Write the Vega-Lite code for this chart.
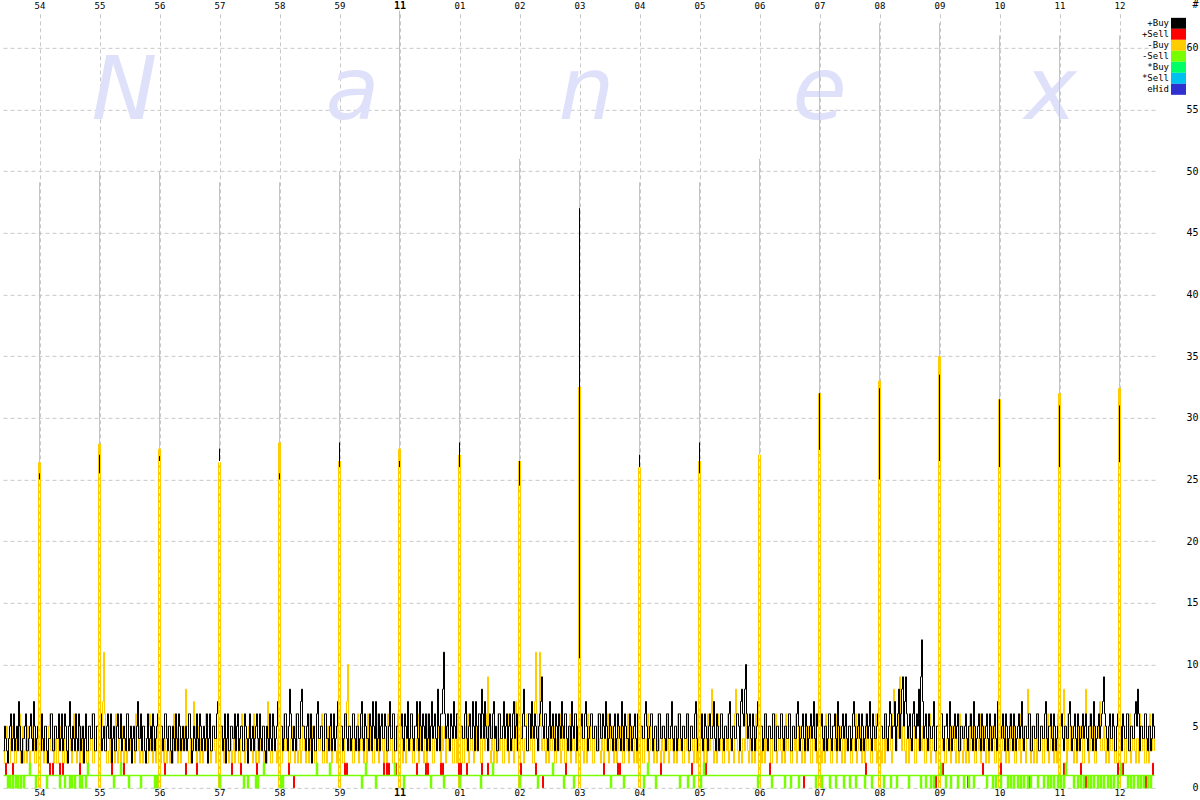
{
"$schema":"https://vega.github.io/schema/vega-lite/v6.json",
"width":1152,"height":777,
"autosize":{"type":"none"},
"padding":{"left":3,"top":10.833,"right":45,"bottom":12.167},
"background":"#ffffff",
"config":{"view":{"stroke":null},"axis":{"labelFont":"DejaVu Sans Mono","labelColor":"#000000","titleFont":"DejaVu Sans Mono"},"line":{"strokeWidth":1}},
"datasets":{
"noise":[
{"t":0,"k":3,"y":2},{"t":1,"k":5,"y":3},{"t":2,"k":4,"y":3},{"t":3,"k":3,"y":5},{"t":4,"k":2,"y":4},{"t":5,"k":4,"y":2},{"t":6,"k":5,"y":2},{"t":7,"k":6,"y":4},{"t":8,"k":3,"y":5},{"t":9,"k":4,"y":3},{"t":10,"k":6,"y":3},{"t":11,"k":3,"y":2},{"t":12,"k":4,"y":2},{"t":13,"k":5,"y":4},{"t":14,"k":3,"y":4},{"t":15,"k":7,"y":3},{"t":16,"k":5,"y":6},{"t":17,"k":3,"y":2},{"t":18,"k":2,"y":3},{"t":19,"k":4,"y":5},{"t":20,"k":4,"y":2},{"t":21,"k":5,"y":3},{"t":22,"k":6,"y":4},{"t":23,"k":3,"y":2},{"t":24,"k":3,"y":5},{"t":25,"k":4,"y":4},{"t":26,"k":5,"y":2},{"t":27,"k":6,"y":3},{"t":28,"k":4,"y":3},{"t":29,"k":3,"y":5},{"t":30,"k":7,"y":4},{"t":31,"k":5,"y":2},{"t":32,"k":3,"y":2},{"t":33,"k":4,"y":4},{"t":34,"k":5,"y":3},{"t":35,"k":6,"y":2},{"t":36,"k":4,"y":3},{"t":37,"k":3,"y":4},{"t":38,"k":6,"y":5},{"t":39,"k":4,"y":3},{"t":40,"k":3,"y":2},{"t":41,"k":5,"y":4},{"t":42,"k":5,"y":4},{"t":43,"k":3,"y":2},{"t":44,"k":2,"y":3},{"t":45,"k":4,"y":5},{"t":46,"k":4,"y":6},{"t":47,"k":6,"y":3},{"t":48,"k":6,"y":3},{"t":49,"k":3,"y":4},{"t":50,"k":3,"y":2},{"t":51,"k":5,"y":3},{"t":52,"k":5,"y":4},{"t":53,"k":4,"y":2},{"t":54,"k":4,"y":2},{"t":55,"k":6,"y":4},{"t":56,"k":3,"y":5},{"t":57,"k":4,"y":3},{"t":58,"k":6,"y":3},{"t":59,"k":3,"y":2},
{"t":60,"k":4,"y":2},{"t":61,"k":6,"y":4},{"t":62,"k":5,"y":4},{"t":63,"k":3,"y":2},{"t":64,"k":2,"y":3},{"t":65,"k":5,"y":5},{"t":66,"k":7,"y":5},{"t":67,"k":4,"y":3},{"t":68,"k":3,"y":2},{"t":69,"k":5,"y":4},{"t":70,"k":4,"y":6},{"t":71,"k":3,"y":3},{"t":72,"k":6,"y":3},{"t":73,"k":4,"y":2},{"t":74,"k":3,"y":4},{"t":75,"k":6,"y":5},{"t":76,"k":5,"y":2},{"t":77,"k":3,"y":3},{"t":78,"k":4,"y":5},{"t":79,"k":5,"y":2},{"t":80,"k":2,"y":3},{"t":81,"k":4,"y":4},{"t":82,"k":6,"y":4},{"t":83,"k":3,"y":2},{"t":84,"k":3,"y":2},{"t":85,"k":5,"y":3},{"t":86,"k":5,"y":3},{"t":87,"k":4,"y":5},{"t":88,"k":4,"y":6},{"t":89,"k":6,"y":2},{"t":90,"k":6,"y":2},{"t":91,"k":3,"y":4},{"t":92,"k":3,"y":4},{"t":93,"k":5,"y":3},{"t":94,"k":5,"y":3},{"t":95,"k":4,"y":2},{"t":96,"k":4,"y":3},{"t":97,"k":6,"y":4},{"t":98,"k":3,"y":5},{"t":99,"k":4,"y":7},{"t":100,"k":5,"y":11},{"t":101,"k":3,"y":6},{"t":102,"k":3,"y":4},{"t":103,"k":5,"y":2},{"t":104,"k":6,"y":2},{"t":105,"k":4,"y":3},{"t":106,"k":4,"y":5},{"t":107,"k":6,"y":2},{"t":108,"k":2,"y":3},{"t":109,"k":4,"y":4},{"t":110,"k":5,"y":4},{"t":111,"k":3,"y":2},{"t":112,"k":3,"y":6},{"t":113,"k":5,"y":3},{"t":114,"k":6,"y":2},{"t":115,"k":4,"y":4},{"t":116,"k":4,"y":3},{"t":117,"k":6,"y":2},{"t":118,"k":3,"y":5},{"t":119,"k":4,"y":3},
{"t":120,"k":5,"y":2},{"t":121,"k":4,"y":4},{"t":122,"k":3,"y":4},{"t":123,"k":6,"y":2},{"t":124,"k":6,"y":3},{"t":125,"k":3,"y":5},{"t":126,"k":4,"y":5},{"t":127,"k":5,"y":3},{"t":128,"k":2,"y":2},{"t":129,"k":4,"y":4},{"t":130,"k":5,"y":4},{"t":131,"k":3,"y":2},{"t":132,"k":3,"y":6},{"t":133,"k":5,"y":3},{"t":134,"k":7,"y":3},{"t":135,"k":4,"y":5},{"t":136,"k":4,"y":2},{"t":137,"k":6,"y":3},{"t":138,"k":3,"y":5},{"t":139,"k":5,"y":2},{"t":140,"k":5,"y":3},{"t":141,"k":3,"y":4},{"t":142,"k":2,"y":4},{"t":143,"k":4,"y":2},{"t":144,"k":6,"y":2},{"t":145,"k":3,"y":5},{"t":146,"k":4,"y":6},{"t":147,"k":5,"y":3},{"t":148,"k":3,"y":3},{"t":149,"k":6,"y":2},{"t":150,"k":5,"y":4},{"t":151,"k":3,"y":3},{"t":152,"k":4,"y":2},{"t":153,"k":5,"y":4},{"t":154,"k":6,"y":5},{"t":155,"k":4,"y":3},{"t":156,"k":3,"y":3},{"t":157,"k":5,"y":2},{"t":158,"k":5,"y":4},{"t":159,"k":3,"y":3},{"t":160,"k":4,"y":2},{"t":161,"k":6,"y":4},{"t":162,"k":6,"y":3},{"t":163,"k":4,"y":2},{"t":164,"k":3,"y":5},{"t":165,"k":5,"y":3},{"t":166,"k":5,"y":2},{"t":167,"k":3,"y":4},{"t":168,"k":2,"y":4},{"t":169,"k":5,"y":2},{"t":170,"k":4,"y":6},{"t":171,"k":3,"y":3},{"t":172,"k":6,"y":3},{"t":173,"k":4,"y":5},{"t":174,"k":3,"y":2},{"t":175,"k":6,"y":3},{"t":176,"k":5,"y":4},{"t":177,"k":3,"y":2},{"t":178,"k":4,"y":3},{"t":179,"k":5,"y":4},
{"t":180,"k":3,"y":5},{"t":181,"k":4,"y":3},{"t":182,"k":5,"y":8},{"t":183,"k":3,"y":4},{"t":184,"k":4,"y":3},{"t":185,"k":6,"y":2},{"t":186,"k":6,"y":2},{"t":187,"k":4,"y":4},{"t":188,"k":2,"y":4},{"t":189,"k":3,"y":3},{"t":190,"k":5,"y":7},{"t":191,"k":4,"y":5},{"t":192,"k":3,"y":3},{"t":193,"k":6,"y":2},{"t":194,"k":4,"y":5},{"t":195,"k":3,"y":3},{"t":196,"k":6,"y":2},{"t":197,"k":5,"y":4},{"t":198,"k":3,"y":4},{"t":199,"k":4,"y":2},{"t":200,"k":5,"y":3},{"t":201,"k":3,"y":5},{"t":202,"k":4,"y":6},{"t":203,"k":6,"y":3},{"t":204,"k":2,"y":2},{"t":205,"k":4,"y":4},{"t":206,"k":6,"y":4},{"t":207,"k":3,"y":2},{"t":208,"k":3,"y":3},{"t":209,"k":5,"y":5},{"t":210,"k":5,"y":5},{"t":211,"k":4,"y":3},{"t":212,"k":4,"y":2},{"t":213,"k":6,"y":4},{"t":214,"k":7,"y":4},{"t":215,"k":4,"y":2},{"t":216,"k":3,"y":3},{"t":217,"k":5,"y":4},{"t":218,"k":5,"y":5},{"t":219,"k":3,"y":3},{"t":220,"k":4,"y":2},{"t":221,"k":6,"y":5},{"t":222,"k":2,"y":4},{"t":223,"k":4,"y":3},{"t":224,"k":6,"y":6},{"t":225,"k":3,"y":2},{"t":226,"k":3,"y":3},{"t":227,"k":5,"y":4},{"t":228,"k":5,"y":2},{"t":229,"k":4,"y":3},{"t":230,"k":4,"y":5},{"t":231,"k":6,"y":2},{"t":232,"k":3,"y":3},{"t":233,"k":5,"y":4},{"t":234,"k":6,"y":4},{"t":235,"k":3,"y":2},{"t":236,"k":4,"y":2},{"t":237,"k":5,"y":5},{"t":238,"k":5,"y":6},{"t":239,"k":3,"y":3},
{"t":240,"k":3,"y":3},{"t":241,"k":6,"y":2},{"t":242,"k":5,"y":4},{"t":243,"k":4,"y":3},{"t":244,"k":2,"y":2},{"t":245,"k":4,"y":5},{"t":246,"k":6,"y":5},{"t":247,"k":3,"y":3},{"t":248,"k":4,"y":3},{"t":249,"k":5,"y":2},{"t":250,"k":3,"y":6},{"t":251,"k":4,"y":4},{"t":252,"k":5,"y":2},{"t":253,"k":6,"y":3},{"t":254,"k":4,"y":4},{"t":255,"k":3,"y":2},{"t":256,"k":6,"y":3},{"t":257,"k":4,"y":5},{"t":258,"k":3,"y":5},{"t":259,"k":5,"y":3},{"t":260,"k":5,"y":2},{"t":261,"k":3,"y":4},{"t":262,"k":2,"y":4},{"t":263,"k":5,"y":2},{"t":264,"k":4,"y":7},{"t":265,"k":3,"y":4},{"t":266,"k":6,"y":3},{"t":267,"k":4,"y":2},{"t":268,"k":3,"y":2},{"t":269,"k":6,"y":4},{"t":270,"k":5,"y":5},{"t":271,"k":3,"y":3},{"t":272,"k":4,"y":3},{"t":273,"k":5,"y":2},{"t":274,"k":7,"y":4},{"t":275,"k":4,"y":3},{"t":276,"k":3,"y":3},{"t":277,"k":5,"y":2},{"t":278,"k":5,"y":2},{"t":279,"k":3,"y":4},{"t":280,"k":4,"y":6},{"t":281,"k":6,"y":3},{"t":282,"k":6,"y":3},{"t":283,"k":4,"y":5},{"t":284,"k":3,"y":4},{"t":285,"k":5,"y":2},{"t":286,"k":8,"y":2},{"t":287,"k":6,"y":4},{"t":288,"k":4,"y":5},{"t":289,"k":3,"y":3},{"t":290,"k":5,"y":3},{"t":291,"k":4,"y":2},{"t":292,"k":3,"y":6},{"t":293,"k":6,"y":4},{"t":294,"k":6,"y":2},{"t":295,"k":4,"y":3},{"t":296,"k":4,"y":4},{"t":297,"k":7,"y":2},{"t":298,"k":8,"y":3},{"t":299,"k":5,"y":5},
{"t":300,"k":5,"y":5},{"t":301,"k":4,"y":3},{"t":302,"k":3,"y":2},{"t":303,"k":5,"y":4},{"t":304,"k":6,"y":4},{"t":305,"k":3,"y":2},{"t":306,"k":4,"y":6},{"t":307,"k":6,"y":3},{"t":308,"k":2,"y":3},{"t":309,"k":4,"y":5},{"t":310,"k":5,"y":5},{"t":311,"k":3,"y":2},{"t":312,"k":3,"y":2},{"t":313,"k":6,"y":4},{"t":314,"k":7,"y":4},{"t":315,"k":4,"y":3},{"t":316,"k":4,"y":3},{"t":317,"k":5,"y":5},{"t":318,"k":5,"y":6},{"t":319,"k":3,"y":2},{"t":320,"k":3,"y":2},{"t":321,"k":6,"y":4},{"t":322,"k":6,"y":4},{"t":323,"k":4,"y":2},{"t":324,"k":4,"y":5},{"t":325,"k":3,"y":3},{"t":326,"k":5,"y":3},{"t":327,"k":6,"y":5},{"t":328,"k":3,"y":2},{"t":329,"k":4,"y":4},{"t":330,"k":6,"y":6},{"t":331,"k":3,"y":3},{"t":332,"k":4,"y":3},{"t":333,"k":5,"y":2},{"t":334,"k":7,"y":5},{"t":335,"k":4,"y":3},{"t":336,"k":3,"y":3},{"t":337,"k":5,"y":4},{"t":338,"k":5,"y":4},{"t":339,"k":3,"y":2},{"t":340,"k":4,"y":2},{"t":341,"k":6,"y":5},{"t":342,"k":6,"y":6},{"t":343,"k":4,"y":7},{"t":344,"k":3,"y":10},{"t":345,"k":5,"y":4},{"t":346,"k":5,"y":3},{"t":347,"k":3,"y":5},{"t":348,"k":4,"y":5},{"t":349,"k":6,"y":2},{"t":350,"k":6,"y":2},{"t":351,"k":4,"y":4},{"t":352,"k":3,"y":4},{"t":353,"k":5,"y":3},{"t":354,"k":5,"y":6},{"t":355,"k":3,"y":2},{"t":356,"k":4,"y":3},{"t":357,"k":6,"y":4},{"t":358,"k":7,"y":5},{"t":359,"k":4,"y":3},
{"t":360,"k":3,"y":2},{"t":361,"k":6,"y":4},{"t":362,"k":5,"y":4},{"t":363,"k":4,"y":2},{"t":364,"k":4,"y":6},{"t":365,"k":3,"y":3},{"t":366,"k":6,"y":3},{"t":367,"k":5,"y":5},{"t":368,"k":3,"y":5},{"t":369,"k":7,"y":2},{"t":370,"k":5,"y":2},{"t":371,"k":4,"y":4},{"t":372,"k":7,"y":4},{"t":373,"k":3,"y":3},{"t":374,"k":4,"y":6},{"t":375,"k":6,"y":2},{"t":376,"k":3,"y":3},{"t":377,"k":5,"y":5},{"t":378,"k":6,"y":5},{"t":379,"k":4,"y":3},{"t":380,"k":4,"y":2},{"t":381,"k":6,"y":4},{"t":382,"k":5,"y":4},{"t":383,"k":3,"y":2},{"t":384,"k":3,"y":6},{"t":385,"k":5,"y":3},{"t":386,"k":7,"y":3},{"t":387,"k":4,"y":5},{"t":388,"k":4,"y":5},{"t":389,"k":6,"y":2},{"t":390,"k":6,"y":2},{"t":391,"k":3,"y":4},{"t":392,"k":3,"y":4},{"t":393,"k":5,"y":3},{"t":394,"k":5,"y":6},{"t":395,"k":4,"y":2},{"t":396,"k":4,"y":3},{"t":397,"k":5,"y":4},{"t":398,"k":6,"y":5},{"t":399,"k":4,"y":2},{"t":400,"k":3,"y":4},{"t":401,"k":6,"y":3},{"t":402,"k":5,"y":2},{"t":403,"k":4,"y":5},{"t":404,"k":7,"y":6},{"t":405,"k":3,"y":3},{"t":406,"k":4,"y":3},{"t":407,"k":6,"y":5},{"t":408,"k":6,"y":5},{"t":409,"k":4,"y":2},{"t":410,"k":3,"y":2},{"t":411,"k":5,"y":4},{"t":412,"k":5,"y":4},{"t":413,"k":7,"y":3},{"t":414,"k":4,"y":6},{"t":415,"k":3,"y":2},{"t":416,"k":7,"y":3},{"t":417,"k":5,"y":5},{"t":418,"k":3,"y":5},{"t":419,"k":6,"y":3},
{"t":420,"k":5,"y":2},{"t":421,"k":4,"y":4},{"t":422,"k":6,"y":4},{"t":423,"k":3,"y":2},{"t":424,"k":4,"y":6},{"t":425,"k":6,"y":3},{"t":426,"k":3,"y":3},{"t":427,"k":5,"y":5},{"t":428,"k":7,"y":5},{"t":429,"k":4,"y":2},{"t":430,"k":5,"y":2},{"t":431,"k":6,"y":4},{"t":432,"k":4,"y":4},{"t":433,"k":3,"y":3},{"t":434,"k":8,"y":6},{"t":435,"k":5,"y":4},{"t":436,"k":3,"y":3},{"t":437,"k":6,"y":2},{"t":438,"k":6,"y":5},{"t":439,"k":8,"y":3},{"t":440,"k":11,"y":4},{"t":441,"k":6,"y":5},{"t":442,"k":4,"y":2},{"t":443,"k":5,"y":4},{"t":444,"k":6,"y":6},{"t":445,"k":4,"y":3},{"t":446,"k":3,"y":3},{"t":447,"k":6,"y":5},{"t":448,"k":5,"y":5},{"t":449,"k":4,"y":2},{"t":450,"k":7,"y":2},{"t":451,"k":5,"y":4},{"t":452,"k":4,"y":4},{"t":453,"k":6,"y":2},{"t":454,"k":6,"y":6},{"t":455,"k":3,"y":3},{"t":456,"k":3,"y":3},{"t":457,"k":5,"y":4},{"t":458,"k":5,"y":5},{"t":459,"k":4,"y":2},{"t":460,"k":4,"y":2},{"t":461,"k":6,"y":5},{"t":462,"k":7,"y":4},{"t":463,"k":4,"y":3},{"t":464,"k":3,"y":6},{"t":465,"k":5,"y":2},{"t":466,"k":6,"y":3},{"t":467,"k":4,"y":5},{"t":468,"k":4,"y":5},{"t":469,"k":7,"y":3},{"t":470,"k":5,"y":2},{"t":471,"k":3,"y":4},{"t":472,"k":7,"y":6},{"t":473,"k":5,"y":3},{"t":474,"k":3,"y":3},{"t":475,"k":6,"y":5},{"t":476,"k":6,"y":5},{"t":477,"k":4,"y":2},{"t":478,"k":8,"y":2},{"t":479,"k":6,"y":4},
{"t":480,"k":4,"y":4},{"t":481,"k":7,"y":3},{"t":482,"k":5,"y":6},{"t":483,"k":4,"y":4},{"t":484,"k":3,"y":9},{"t":485,"k":5,"y":5},{"t":486,"k":6,"y":3},{"t":487,"k":4,"y":2},{"t":488,"k":4,"y":5},{"t":489,"k":6,"y":3},{"t":490,"k":7,"y":2},{"t":491,"k":4,"y":4},{"t":492,"k":5,"y":4},{"t":493,"k":3,"y":2},{"t":494,"k":3,"y":6},{"t":495,"k":6,"y":4},{"t":496,"k":6,"y":3},{"t":497,"k":4,"y":5},{"t":498,"k":4,"y":5},{"t":499,"k":5,"y":2},{"t":500,"k":7,"y":2},{"t":501,"k":4,"y":4},{"t":502,"k":5,"y":4},{"t":503,"k":6,"y":3},{"t":504,"k":3,"y":6},{"t":505,"k":5,"y":2},{"t":506,"k":6,"y":3},{"t":507,"k":3,"y":5},{"t":508,"k":4,"y":5},{"t":509,"k":6,"y":3},{"t":510,"k":7,"y":2},{"t":511,"k":4,"y":4},{"t":512,"k":5,"y":7},{"t":513,"k":6,"y":3},{"t":514,"k":3,"y":4},{"t":515,"k":5,"y":2},{"t":516,"k":6,"y":3},{"t":517,"k":4,"y":4},{"t":518,"k":4,"y":5},{"t":519,"k":6,"y":3},{"t":520,"k":8,"y":2},{"t":521,"k":5,"y":4},{"t":522,"k":5,"y":4},{"t":523,"k":3,"y":6},{"t":524,"k":3,"y":6},{"t":525,"k":6,"y":3},{"t":526,"k":6,"y":3},{"t":527,"k":4,"y":5},{"t":528,"k":7,"y":5},{"t":529,"k":5,"y":2},{"t":530,"k":4,"y":2},{"t":531,"k":6,"y":7},{"t":532,"k":5,"y":11},{"t":533,"k":4,"y":6},{"t":534,"k":3,"y":4},{"t":535,"k":5,"y":3},{"t":536,"k":6,"y":11},{"t":537,"k":7,"y":5},{"t":538,"k":9,"y":3},{"t":539,"k":5,"y":4},
{"t":540,"k":4,"y":5},{"t":541,"k":6,"y":3},{"t":542,"k":6,"y":2},{"t":543,"k":4,"y":4},{"t":544,"k":3,"y":4},{"t":545,"k":5,"y":2},{"t":546,"k":7,"y":6},{"t":547,"k":4,"y":3},{"t":548,"k":5,"y":3},{"t":549,"k":6,"y":5},{"t":550,"k":4,"y":5},{"t":551,"k":3,"y":2},{"t":552,"k":6,"y":2},{"t":553,"k":5,"y":4},{"t":554,"k":3,"y":4},{"t":555,"k":6,"y":3},{"t":556,"k":5,"y":6},{"t":557,"k":4,"y":2},{"t":558,"k":7,"y":3},{"t":559,"k":5,"y":5},{"t":560,"k":4,"y":5},{"t":561,"k":6,"y":2},{"t":562,"k":6,"y":2},{"t":563,"k":4,"y":4},{"t":564,"k":3,"y":4},{"t":565,"k":5,"y":3},{"t":566,"k":5,"y":6},{"t":567,"k":3,"y":2},{"t":568,"k":7,"y":3},{"t":569,"k":5,"y":4},{"t":570,"k":4,"y":5},{"t":571,"k":6,"y":3},{"t":572,"k":6,"y":2},{"t":573,"k":3,"y":4},{"t":574,"k":5,"y":4},{"t":575,"k":6,"y":2},{"t":576,"k":3,"y":3},{"t":577,"k":5,"y":4},{"t":578,"k":6,"y":5},{"t":579,"k":4,"y":3},{"t":580,"k":4,"y":2},{"t":581,"k":6,"y":4},{"t":582,"k":7,"y":4},{"t":583,"k":5,"y":2},{"t":584,"k":3,"y":6},{"t":585,"k":4,"y":3},{"t":586,"k":5,"y":3},{"t":587,"k":6,"y":5},{"t":588,"k":6,"y":5},{"t":589,"k":4,"y":2},{"t":590,"k":4,"y":2},{"t":591,"k":5,"y":4},{"t":592,"k":5,"y":4},{"t":593,"k":3,"y":3},{"t":594,"k":3,"y":6},{"t":595,"k":6,"y":4},{"t":596,"k":6,"y":3},{"t":597,"k":4,"y":2},{"t":598,"k":4,"y":5},{"t":599,"k":6,"y":3},
{"t":600,"k":5,"y":2},{"t":601,"k":4,"y":4},{"t":602,"k":7,"y":4},{"t":603,"k":5,"y":3},{"t":604,"k":3,"y":6},{"t":605,"k":4,"y":2},{"t":606,"k":6,"y":3},{"t":607,"k":5,"y":5},{"t":608,"k":4,"y":5},{"t":609,"k":3,"y":3},{"t":610,"k":5,"y":2},{"t":611,"k":6,"y":4},{"t":612,"k":3,"y":4},{"t":613,"k":4,"y":2},{"t":614,"k":6,"y":6},{"t":615,"k":5,"y":3},{"t":616,"k":4,"y":3},{"t":617,"k":3,"y":5},{"t":618,"k":7,"y":5},{"t":619,"k":5,"y":2},{"t":620,"k":3,"y":2},{"t":621,"k":6,"y":4},{"t":622,"k":5,"y":4},{"t":623,"k":4,"y":3},{"t":624,"k":4,"y":6},{"t":625,"k":3,"y":2},{"t":626,"k":6,"y":3},{"t":627,"k":5,"y":5},{"t":628,"k":3,"y":5},{"t":629,"k":4,"y":3},{"t":630,"k":5,"y":2},{"t":631,"k":6,"y":4},{"t":632,"k":4,"y":4},{"t":633,"k":3,"y":2},{"t":634,"k":6,"y":6},{"t":635,"k":4,"y":3},{"t":636,"k":3,"y":3},{"t":637,"k":5,"y":4},{"t":638,"k":5,"y":5},{"t":639,"k":4,"y":2},{"t":640,"k":4,"y":2},{"t":641,"k":6,"y":4},{"t":642,"k":7,"y":4},{"t":643,"k":5,"y":3},{"t":644,"k":3,"y":6},{"t":645,"k":4,"y":2},{"t":646,"k":5,"y":3},{"t":647,"k":6,"y":5},{"t":648,"k":6,"y":5},{"t":649,"k":3,"y":3},{"t":650,"k":4,"y":2},{"t":651,"k":5,"y":4},{"t":652,"k":5,"y":4},{"t":653,"k":3,"y":2},{"t":654,"k":3,"y":6},{"t":655,"k":6,"y":4},{"t":656,"k":6,"y":3},{"t":657,"k":4,"y":2},{"t":658,"k":4,"y":5},{"t":659,"k":5,"y":3},
{"t":660,"k":5,"y":2},{"t":661,"k":4,"y":4},{"t":662,"k":3,"y":4},{"t":663,"k":6,"y":3},{"t":664,"k":6,"y":6},{"t":665,"k":4,"y":2},{"t":666,"k":4,"y":3},{"t":667,"k":5,"y":5},{"t":668,"k":7,"y":5},{"t":669,"k":4,"y":3},{"t":670,"k":3,"y":2},{"t":671,"k":5,"y":4},{"t":672,"k":5,"y":4},{"t":673,"k":3,"y":2},{"t":674,"k":4,"y":6},{"t":675,"k":6,"y":3},{"t":676,"k":6,"y":3},{"t":677,"k":4,"y":5},{"t":678,"k":3,"y":5},{"t":679,"k":5,"y":2},{"t":680,"k":5,"y":2},{"t":681,"k":4,"y":4},{"t":682,"k":4,"y":4},{"t":683,"k":6,"y":3},{"t":684,"k":6,"y":6},{"t":685,"k":3,"y":2},{"t":686,"k":3,"y":3},{"t":687,"k":5,"y":5},{"t":688,"k":5,"y":5},{"t":689,"k":4,"y":3},{"t":690,"k":4,"y":2},{"t":691,"k":6,"y":4},{"t":692,"k":7,"y":4},{"t":693,"k":4,"y":2},{"t":694,"k":3,"y":6},{"t":695,"k":5,"y":3},{"t":696,"k":5,"y":3},{"t":697,"k":4,"y":5},{"t":698,"k":6,"y":5},{"t":699,"k":3,"y":3},{"t":700,"k":4,"y":2},{"t":701,"k":6,"y":4},{"t":702,"k":5,"y":4},{"t":703,"k":4,"y":2},{"t":704,"k":3,"y":6},{"t":705,"k":5,"y":4},{"t":706,"k":6,"y":3},{"t":707,"k":4,"y":6},{"t":708,"k":4,"y":8},{"t":709,"k":5,"y":4},{"t":710,"k":7,"y":2},{"t":711,"k":4,"y":3},{"t":712,"k":3,"y":4},{"t":713,"k":6,"y":2},{"t":714,"k":5,"y":6},{"t":715,"k":3,"y":4},{"t":716,"k":4,"y":3},{"t":717,"k":6,"y":5},{"t":718,"k":6,"y":5},{"t":719,"k":4,"y":2},
{"t":720,"k":3,"y":2},{"t":721,"k":5,"y":4},{"t":722,"k":5,"y":4},{"t":723,"k":4,"y":3},{"t":724,"k":4,"y":6},{"t":725,"k":6,"y":2},{"t":726,"k":7,"y":3},{"t":727,"k":4,"y":5},{"t":728,"k":3,"y":5},{"t":729,"k":5,"y":3},{"t":730,"k":5,"y":2},{"t":731,"k":4,"y":6},{"t":732,"k":4,"y":8},{"t":733,"k":6,"y":4},{"t":734,"k":6,"y":3},{"t":735,"k":5,"y":2},{"t":736,"k":3,"y":5},{"t":737,"k":7,"y":3},{"t":738,"k":8,"y":2},{"t":739,"k":6,"y":4},{"t":740,"k":5,"y":4},{"t":741,"k":8,"y":3},{"t":742,"k":10,"y":6},{"t":743,"k":6,"y":4},{"t":744,"k":4,"y":3},{"t":745,"k":5,"y":2},{"t":746,"k":6,"y":5},{"t":747,"k":4,"y":3},{"t":748,"k":3,"y":2},{"t":749,"k":6,"y":4},{"t":750,"k":5,"y":4},{"t":751,"k":3,"y":2},{"t":752,"k":4,"y":6},{"t":753,"k":5,"y":3},{"t":754,"k":7,"y":3},{"t":755,"k":4,"y":5},{"t":756,"k":3,"y":5},{"t":757,"k":5,"y":3},{"t":758,"k":5,"y":2},{"t":759,"k":3,"y":4},{"t":760,"k":4,"y":4},{"t":761,"k":6,"y":2},{"t":762,"k":6,"y":6},{"t":763,"k":4,"y":3},{"t":764,"k":3,"y":3},{"t":765,"k":5,"y":5},{"t":766,"k":5,"y":5},{"t":767,"k":4,"y":2},{"t":768,"k":4,"y":2},{"t":769,"k":6,"y":4},{"t":770,"k":6,"y":4},{"t":771,"k":3,"y":3},{"t":772,"k":3,"y":6},{"t":773,"k":5,"y":2},{"t":774,"k":5,"y":3},{"t":775,"k":4,"y":5},{"t":776,"k":4,"y":5},{"t":777,"k":6,"y":3},{"t":778,"k":6,"y":2},{"t":779,"k":4,"y":4},
{"t":780,"k":3,"y":4},{"t":781,"k":5,"y":2},{"t":782,"k":5,"y":6},{"t":783,"k":4,"y":3},{"t":784,"k":4,"y":3},{"t":785,"k":6,"y":5},{"t":786,"k":6,"y":5},{"t":787,"k":3,"y":2},{"t":788,"k":3,"y":2},{"t":789,"k":5,"y":4},{"t":790,"k":5,"y":4},{"t":791,"k":4,"y":3},{"t":792,"k":4,"y":6},{"t":793,"k":6,"y":2},{"t":794,"k":7,"y":3},{"t":795,"k":5,"y":5},{"t":796,"k":3,"y":5},{"t":797,"k":4,"y":3},{"t":798,"k":5,"y":2},{"t":799,"k":6,"y":4},{"t":800,"k":4,"y":4},{"t":801,"k":3,"y":2},{"t":802,"k":6,"y":6},{"t":803,"k":5,"y":3},{"t":804,"k":3,"y":3},{"t":805,"k":4,"y":5},{"t":806,"k":5,"y":5},{"t":807,"k":6,"y":2},{"t":808,"k":4,"y":2},{"t":809,"k":5,"y":4},{"t":810,"k":7,"y":4},{"t":811,"k":4,"y":3},{"t":812,"k":3,"y":6},{"t":813,"k":6,"y":2},{"t":814,"k":5,"y":3},{"t":815,"k":4,"y":4},{"t":816,"k":4,"y":5},{"t":817,"k":5,"y":3},{"t":818,"k":6,"y":2},{"t":819,"k":4,"y":4},{"t":820,"k":3,"y":4},{"t":821,"k":5,"y":2},{"t":822,"k":5,"y":6},{"t":823,"k":3,"y":3},{"t":824,"k":4,"y":3},{"t":825,"k":6,"y":5},{"t":826,"k":6,"y":5},{"t":827,"k":4,"y":2},{"t":828,"k":3,"y":2},{"t":829,"k":5,"y":4},{"t":830,"k":5,"y":4},{"t":831,"k":6,"y":3},{"t":832,"k":4,"y":6},{"t":833,"k":3,"y":2},{"t":834,"k":7,"y":3},{"t":835,"k":5,"y":5},{"t":836,"k":3,"y":5},{"t":837,"k":4,"y":3},{"t":838,"k":5,"y":2},{"t":839,"k":6,"y":4},
{"t":840,"k":4,"y":4},{"t":841,"k":5,"y":2},{"t":842,"k":6,"y":6},{"t":843,"k":4,"y":3},{"t":844,"k":3,"y":3},{"t":845,"k":5,"y":5},{"t":846,"k":5,"y":5},{"t":847,"k":3,"y":2},{"t":848,"k":4,"y":2},{"t":849,"k":6,"y":4},{"t":850,"k":7,"y":4},{"t":851,"k":5,"y":3},{"t":852,"k":3,"y":6},{"t":853,"k":4,"y":2},{"t":854,"k":5,"y":3},{"t":855,"k":6,"y":5},{"t":856,"k":4,"y":5},{"t":857,"k":3,"y":3},{"t":858,"k":6,"y":2},{"t":859,"k":5,"y":4},{"t":860,"k":3,"y":4},{"t":861,"k":4,"y":2},{"t":862,"k":5,"y":6},{"t":863,"k":6,"y":3},{"t":864,"k":4,"y":3},{"t":865,"k":5,"y":5},{"t":866,"k":7,"y":5},{"t":867,"k":4,"y":2},{"t":868,"k":3,"y":2},{"t":869,"k":6,"y":4},{"t":870,"k":5,"y":4},{"t":871,"k":4,"y":3},{"t":872,"k":4,"y":6},{"t":873,"k":5,"y":2},{"t":874,"k":6,"y":3},{"t":875,"k":3,"y":4},{"t":876,"k":3,"y":5},{"t":877,"k":5,"y":3},{"t":878,"k":5,"y":2},{"t":879,"k":4,"y":4},{"t":880,"k":4,"y":4},{"t":881,"k":6,"y":2},{"t":882,"k":6,"y":6},{"t":883,"k":4,"y":3},{"t":884,"k":3,"y":3},{"t":885,"k":5,"y":5},{"t":886,"k":7,"y":5},{"t":887,"k":6,"y":3},{"t":888,"k":4,"y":2},{"t":889,"k":5,"y":6},{"t":890,"k":5,"y":8},{"t":891,"k":7,"y":5},{"t":892,"k":3,"y":4},{"t":893,"k":5,"y":3},{"t":894,"k":6,"y":6},{"t":895,"k":8,"y":4},{"t":896,"k":4,"y":9},{"t":897,"k":6,"y":6},{"t":898,"k":8,"y":3},{"t":899,"k":9,"y":5},
{"t":900,"k":5,"y":5},{"t":901,"k":7,"y":3},{"t":902,"k":9,"y":2},{"t":903,"k":6,"y":4},{"t":904,"k":4,"y":4},{"t":905,"k":5,"y":2},{"t":906,"k":6,"y":6},{"t":907,"k":4,"y":3},{"t":908,"k":3,"y":3},{"t":909,"k":6,"y":5},{"t":910,"k":7,"y":5},{"t":911,"k":5,"y":2},{"t":912,"k":4,"y":2},{"t":913,"k":6,"y":4},{"t":914,"k":5,"y":4},{"t":915,"k":8,"y":3},{"t":916,"k":3,"y":6},{"t":917,"k":9,"y":4},{"t":918,"k":12,"y":3},{"t":919,"k":7,"y":5},{"t":920,"k":4,"y":5},{"t":921,"k":5,"y":2},{"t":922,"k":6,"y":2},{"t":923,"k":4,"y":4},{"t":924,"k":3,"y":4},{"t":925,"k":6,"y":3},{"t":926,"k":5,"y":6},{"t":927,"k":4,"y":2},{"t":928,"k":4,"y":3},{"t":929,"k":5,"y":5},{"t":930,"k":7,"y":5},{"t":931,"k":3,"y":3},{"t":932,"k":3,"y":2},{"t":933,"k":5,"y":4},{"t":934,"k":5,"y":4},{"t":935,"k":4,"y":2},{"t":936,"k":4,"y":6},{"t":937,"k":6,"y":3},{"t":938,"k":6,"y":3},{"t":939,"k":4,"y":5},{"t":940,"k":3,"y":5},{"t":941,"k":5,"y":2},{"t":942,"k":5,"y":2},{"t":943,"k":6,"y":4},{"t":944,"k":4,"y":4},{"t":945,"k":3,"y":3},{"t":946,"k":7,"y":6},{"t":947,"k":5,"y":2},{"t":948,"k":3,"y":3},{"t":949,"k":4,"y":5},{"t":950,"k":5,"y":5},{"t":951,"k":6,"y":3},{"t":952,"k":4,"y":2},{"t":953,"k":5,"y":4},{"t":954,"k":6,"y":4},{"t":955,"k":3,"y":2},{"t":956,"k":3,"y":6},{"t":957,"k":5,"y":4},{"t":958,"k":5,"y":3},{"t":959,"k":4,"y":2},
{"t":960,"k":4,"y":5},{"t":961,"k":5,"y":3},{"t":962,"k":6,"y":2},{"t":963,"k":4,"y":4},{"t":964,"k":3,"y":4},{"t":965,"k":5,"y":2},{"t":966,"k":5,"y":6},{"t":967,"k":6,"y":3},{"t":968,"k":4,"y":3},{"t":969,"k":3,"y":5},{"t":970,"k":7,"y":5},{"t":971,"k":5,"y":2},{"t":972,"k":3,"y":2},{"t":973,"k":4,"y":4},{"t":974,"k":5,"y":4},{"t":975,"k":6,"y":3},{"t":976,"k":4,"y":6},{"t":977,"k":3,"y":2},{"t":978,"k":6,"y":3},{"t":979,"k":5,"y":5},{"t":980,"k":3,"y":5},{"t":981,"k":4,"y":3},{"t":982,"k":5,"y":2},{"t":983,"k":6,"y":4},{"t":984,"k":4,"y":4},{"t":985,"k":3,"y":2},{"t":986,"k":6,"y":6},{"t":987,"k":5,"y":3},{"t":988,"k":3,"y":3},{"t":989,"k":4,"y":5},{"t":990,"k":5,"y":5},{"t":991,"k":6,"y":2},{"t":992,"k":4,"y":2},{"t":993,"k":3,"y":4},{"t":994,"k":7,"y":4},{"t":995,"k":5,"y":3},{"t":996,"k":3,"y":6},{"t":997,"k":4,"y":2},{"t":998,"k":5,"y":3},{"t":999,"k":6,"y":5},{"t":1000,"k":4,"y":5},{"t":1001,"k":3,"y":3},{"t":1002,"k":6,"y":2},{"t":1003,"k":5,"y":4},{"t":1004,"k":3,"y":4},{"t":1005,"k":4,"y":2},{"t":1006,"k":5,"y":6},{"t":1007,"k":6,"y":3},{"t":1008,"k":4,"y":3},{"t":1009,"k":3,"y":5},{"t":1010,"k":6,"y":5},{"t":1011,"k":5,"y":2},{"t":1012,"k":3,"y":2},{"t":1013,"k":4,"y":4},{"t":1014,"k":5,"y":4},{"t":1015,"k":6,"y":3},{"t":1016,"k":4,"y":6},{"t":1017,"k":5,"y":2},{"t":1018,"k":7,"y":3},{"t":1019,"k":4,"y":4},
{"t":1020,"k":3,"y":5},{"t":1021,"k":5,"y":3},{"t":1022,"k":5,"y":2},{"t":1023,"k":4,"y":5},{"t":1024,"k":4,"y":8},{"t":1025,"k":6,"y":4},{"t":1026,"k":6,"y":3},{"t":1027,"k":3,"y":2},{"t":1028,"k":3,"y":5},{"t":1029,"k":5,"y":3},{"t":1030,"k":5,"y":2},{"t":1031,"k":4,"y":4},{"t":1032,"k":4,"y":4},{"t":1033,"k":6,"y":2},{"t":1034,"k":6,"y":6},{"t":1035,"k":3,"y":3},{"t":1036,"k":3,"y":3},{"t":1037,"k":5,"y":5},{"t":1038,"k":5,"y":5},{"t":1039,"k":4,"y":2},{"t":1040,"k":4,"y":2},{"t":1041,"k":6,"y":4},{"t":1042,"k":7,"y":4},{"t":1043,"k":4,"y":3},{"t":1044,"k":3,"y":6},{"t":1045,"k":5,"y":2},{"t":1046,"k":5,"y":3},{"t":1047,"k":6,"y":5},{"t":1048,"k":4,"y":5},{"t":1049,"k":3,"y":3},{"t":1050,"k":6,"y":2},{"t":1051,"k":5,"y":4},{"t":1052,"k":3,"y":4},{"t":1053,"k":4,"y":2},{"t":1054,"k":5,"y":6},{"t":1055,"k":6,"y":3},{"t":1056,"k":4,"y":3},{"t":1057,"k":5,"y":5},{"t":1058,"k":6,"y":5},{"t":1059,"k":4,"y":6},{"t":1060,"k":3,"y":8},{"t":1061,"k":5,"y":5},{"t":1062,"k":5,"y":4},{"t":1063,"k":4,"y":2},{"t":1064,"k":4,"y":6},{"t":1065,"k":6,"y":3},{"t":1066,"k":7,"y":3},{"t":1067,"k":5,"y":5},{"t":1068,"k":3,"y":5},{"t":1069,"k":4,"y":3},{"t":1070,"k":5,"y":2},{"t":1071,"k":6,"y":4},{"t":1072,"k":4,"y":4},{"t":1073,"k":3,"y":2},{"t":1074,"k":6,"y":6},{"t":1075,"k":5,"y":3},{"t":1076,"k":3,"y":3},{"t":1077,"k":4,"y":5},{"t":1078,"k":5,"y":5},{"t":1079,"k":6,"y":2},
{"t":1080,"k":4,"y":2},{"t":1081,"k":5,"y":5},{"t":1082,"k":6,"y":8},{"t":1083,"k":4,"y":4},{"t":1084,"k":3,"y":4},{"t":1085,"k":5,"y":2},{"t":1086,"k":5,"y":6},{"t":1087,"k":6,"y":3},{"t":1088,"k":4,"y":3},{"t":1089,"k":3,"y":5},{"t":1090,"k":7,"y":5},{"t":1091,"k":5,"y":2},{"t":1092,"k":3,"y":2},{"t":1093,"k":4,"y":4},{"t":1094,"k":5,"y":4},{"t":1095,"k":6,"y":5},{"t":1096,"k":4,"y":7},{"t":1097,"k":5,"y":3},{"t":1098,"k":6,"y":3},{"t":1099,"k":7,"y":4},{"t":1100,"k":9,"y":5},{"t":1101,"k":6,"y":3},{"t":1102,"k":5,"y":2},{"t":1103,"k":4,"y":4},{"t":1104,"k":3,"y":4},{"t":1105,"k":5,"y":2},{"t":1106,"k":6,"y":6},{"t":1107,"k":4,"y":3},{"t":1108,"k":4,"y":3},{"t":1109,"k":6,"y":5},{"t":1110,"k":5,"y":5},{"t":1111,"k":3,"y":2},{"t":1112,"k":3,"y":2},{"t":1113,"k":5,"y":4},{"t":1114,"k":6,"y":4},{"t":1115,"k":4,"y":2},{"t":1116,"k":4,"y":6},{"t":1117,"k":5,"y":3},{"t":1118,"k":3,"y":3},{"t":1119,"k":6,"y":5},{"t":1120,"k":5,"y":5},{"t":1121,"k":4,"y":2},{"t":1122,"k":4,"y":2},{"t":1123,"k":6,"y":4},{"t":1124,"k":6,"y":4},{"t":1125,"k":3,"y":3},{"t":1126,"k":3,"y":6},{"t":1127,"k":5,"y":2},{"t":1128,"k":5,"y":3},{"t":1129,"k":4,"y":5},{"t":1130,"k":4,"y":5},{"t":1131,"k":6,"y":3},{"t":1132,"k":7,"y":2},{"t":1133,"k":5,"y":4},{"t":1134,"k":8,"y":4},{"t":1135,"k":6,"y":2},{"t":1136,"k":3,"y":6},{"t":1137,"k":5,"y":3},{"t":1138,"k":5,"y":3},{"t":1139,"k":4,"y":5},{"t":1140,"k":4,"y":5},{"t":1141,"k":6,"y":2},{"t":1142,"k":6,"y":2},{"t":1143,"k":4,"y":4},{"t":1144,"k":3,"y":4},{"t":1145,"k":5,"y":2},{"t":1146,"k":5,"y":6},{"t":1147,"k":3,"y":3},{"t":1148,"k":4,"y":3},{"t":1149,"k":6,"y":4},{"t":1150,"k":5,"y":4},{"t":1151,"k":4,"y":3}
],
"spikes":[
{"t":36,"a":49.1,"b":26.4,"kh":25.5,"kl":25},
{"t":96,"a":50,"b":27.9,"kh":27,"kl":25.5},
{"t":156,"a":50,"b":27.5,"kh":26.9,"kl":26.5},
{"t":216,"a":49.1,"b":26.4,"kh":27.5,"kl":26.5},
{"t":276,"a":49.1,"b":28,"kh":25.5,"kl":25},
{"t":336,"a":50,"b":26.5,"kh":28,"kl":26},
{"t":396,"a":51,"b":27.5,"kh":26.5,"kl":26},
{"t":456,"a":50,"b":27,"kh":28,"kl":26},
{"t":516,"a":51,"b":26.5,"kh":26.5,"kl":24.5},
{"t":576,"a":50,"b":32.5,"kh":47,"kl":10.5},
{"t":636,"a":49.1,"b":26,"kh":27,"kl":26},
{"t":696,"a":49.1,"b":26.5,"kh":28,"kl":25.5},
{"t":756,"a":51,"b":27,"kh":27,"kl":27},
{"t":816,"a":62,"b":32,"kh":32,"kl":27.4},
{"t":876,"a":62,"b":33,"kh":32.4,"kl":25},
{"t":936,"a":62,"b":35,"kh":33.5,"kl":26.5},
{"t":996,"a":61,"b":31.5,"kh":31.5,"kl":26},
{"t":1056,"a":61,"b":32,"kh":31,"kl":26},
{"t":1116,"a":61,"b":32.4,"kh":31,"kl":26.4}
],
"green":[
{"t":0,"v":1},{"t":4,"v":0},{"t":5,"v":1},{"t":6,"v":0},{"t":7,"v":1},{"t":9,"v":0},{"t":10,"v":1},{"t":12,"v":0},{"t":13,"v":1},{"t":14,"v":0},{"t":15,"v":1},{"t":17,"v":0},{"t":18,"v":1},{"t":20,"v":0},{"t":21,"v":1},{"t":26,"v":2},{"t":27,"v":1},{"t":32,"v":0},{"t":33,"v":1},{"t":43,"v":0},{"t":44,"v":1},{"t":56,"v":0},{"t":57,"v":1},{"t":61,"v":0},{"t":62,"v":1},{"t":66,"v":0},{"t":67,"v":1},{"t":68,"v":0},{"t":69,"v":1},{"t":71,"v":0},{"t":72,"v":1},{"t":76,"v":0},{"t":77,"v":1},{"t":78,"v":0},{"t":79,"v":1},{"t":82,"v":0},{"t":83,"v":1},{"t":84,"v":2},{"t":85,"v":1},{"t":110,"v":0},{"t":111,"v":1},{"t":117,"v":2},{"t":118,"v":1},{"t":125,"v":0},{"t":126,"v":1},{"t":137,"v":0},{"t":138,"v":1},{"t":151,"v":0},{"t":152,"v":1},{"t":153,"v":0},{"t":154,"v":1},{"t":216,"v":0},{"t":217,"v":1},{"t":240,"v":0},{"t":241,"v":1},{"t":244,"v":0},{"t":245,"v":1},{"t":252,"v":0},{"t":253,"v":1},{"t":254,"v":0},{"t":255,"v":1},{"t":260,"v":2},{"t":261,"v":1},{"t":277,"v":0},{"t":278,"v":1},{"t":279,"v":0},{"t":280,"v":1},
{"t":313,"v":2},{"t":314,"v":1},{"t":326,"v":2},{"t":327,"v":1},{"t":358,"v":0},{"t":359,"v":1},{"t":362,"v":2},{"t":363,"v":1},{"t":372,"v":0},{"t":373,"v":1},{"t":391,"v":2},{"t":392,"v":1},{"t":400,"v":0},{"t":401,"v":1},{"t":427,"v":0},{"t":428,"v":1},{"t":440,"v":0},{"t":441,"v":1},{"t":456,"v":0},{"t":457,"v":1},{"t":477,"v":0},{"t":478,"v":1},{"t":489,"v":2},{"t":490,"v":1},{"t":516,"v":0},{"t":517,"v":1},{"t":534,"v":0},{"t":535,"v":1},{"t":549,"v":2},{"t":550,"v":1},{"t":560,"v":0},{"t":561,"v":1},{"t":570,"v":0},{"t":571,"v":1},
{"t":607,"v":0},{"t":608,"v":1},{"t":620,"v":0},{"t":621,"v":1},{"t":640,"v":0},{"t":641,"v":1},{"t":644,"v":2},{"t":645,"v":1},{"t":652,"v":0},{"t":653,"v":1},{"t":676,"v":0},{"t":677,"v":1},{"t":684,"v":0},{"t":685,"v":1},{"t":690,"v":0},{"t":691,"v":1},{"t":697,"v":0},{"t":698,"v":1},{"t":700,"v":2},{"t":701,"v":1},{"t":754,"v":0},{"t":755,"v":1},{"t":768,"v":0},{"t":769,"v":1},{"t":781,"v":0},{"t":782,"v":1},{"t":787,"v":0},{"t":788,"v":1},{"t":795,"v":0},{"t":796,"v":1},{"t":812,"v":0},{"t":813,"v":1},{"t":818,"v":0},{"t":819,"v":1},{"t":826,"v":0},{"t":827,"v":1},{"t":832,"v":0},{"t":833,"v":1},{"t":840,"v":0},{"t":841,"v":1},{"t":846,"v":0},{"t":847,"v":1},{"t":852,"v":0},{"t":853,"v":1},{"t":861,"v":0},{"t":862,"v":1},{"t":868,"v":0},{"t":869,"v":1},{"t":880,"v":0},{"t":881,"v":1},{"t":887,"v":0},{"t":888,"v":1},{"t":893,"v":0},{"t":894,"v":1},
{"t":905,"v":0},{"t":906,"v":1},{"t":917,"v":0},{"t":918,"v":1},{"t":922,"v":0},{"t":923,"v":1},{"t":927,"v":0},{"t":928,"v":1},{"t":930,"v":0},{"t":931,"v":1},{"t":937,"v":2},{"t":938,"v":1},{"t":942,"v":0},{"t":943,"v":1},{"t":947,"v":0},{"t":948,"v":1},{"t":954,"v":0},{"t":955,"v":1},{"t":960,"v":0},{"t":961,"v":1},{"t":965,"v":0},{"t":966,"v":1},{"t":970,"v":0},{"t":971,"v":1},{"t":983,"v":0},{"t":984,"v":1},{"t":989,"v":0},{"t":990,"v":1},{"t":992,"v":0},{"t":993,"v":1},{"t":997,"v":0},{"t":998,"v":1},{"t":1004,"v":0},{"t":1005,"v":1},{"t":1007,"v":0},{"t":1008,"v":1},{"t":1010,"v":0},{"t":1011,"v":1},{"t":1014,"v":0},{"t":1015,"v":1},{"t":1017,"v":0},{"t":1018,"v":1},{"t":1020,"v":0},{"t":1021,"v":1},{"t":1024,"v":0},{"t":1025,"v":1},{"t":1027,"v":0},{"t":1028,"v":1},{"t":1034,"v":0},{"t":1035,"v":1},{"t":1040,"v":0},{"t":1041,"v":1},{"t":1044,"v":0},{"t":1045,"v":1},{"t":1047,"v":0},{"t":1048,"v":1},{"t":1050,"v":0},{"t":1051,"v":1},{"t":1054,"v":0},{"t":1055,"v":1},{"t":1057,"v":0},{"t":1058,"v":1},{"t":1060,"v":0},{"t":1061,"v":1},{"t":1062,"v":2},{"t":1063,"v":1},{"t":1070,"v":0},{"t":1071,"v":1},{"t":1074,"v":0},{"t":1075,"v":1},{"t":1077,"v":0},{"t":1078,"v":1},{"t":1080,"v":0},{"t":1081,"v":1},{"t":1084,"v":0},{"t":1085,"v":1},{"t":1087,"v":0},{"t":1088,"v":1},{"t":1090,"v":0},{"t":1091,"v":1},{"t":1094,"v":0},{"t":1095,"v":1},{"t":1097,"v":0},{"t":1098,"v":1},{"t":1100,"v":0},{"t":1101,"v":1},{"t":1104,"v":0},{"t":1105,"v":1},{"t":1107,"v":0},{"t":1108,"v":1},{"t":1110,"v":0},{"t":1111,"v":1},{"t":1114,"v":0},{"t":1115,"v":1},{"t":1117,"v":2},{"t":1118,"v":1},{"t":1124,"v":0},{"t":1125,"v":1},{"t":1127,"v":0},{"t":1128,"v":1},{"t":1130,"v":0},{"t":1131,"v":1},{"t":1134,"v":0},{"t":1135,"v":1},{"t":1137,"v":0},{"t":1138,"v":1},{"t":1140,"v":0},{"t":1141,"v":1},{"t":1144,"v":0},{"t":1145,"v":1},{"t":1147,"v":0},{"t":1148,"v":1},{"t":1151,"v":1}
],
"red":[
{"t":2,"t2":3,"v":2},{"t":9,"t2":10,"v":2},{"t":46,"t2":47,"v":2},{"t":49,"t2":50,"v":2},{"t":56,"t2":57,"v":2},{"t":59,"t2":60,"v":2},{"t":76,"t2":77,"v":2},{"t":108,"t2":109,"v":2},{"t":120,"t2":121,"v":2},{"t":161,"t2":162,"v":2},{"t":182,"t2":183,"v":2},{"t":193,"t2":194,"v":2},{"t":228,"t2":229,"v":2},{"t":237,"t2":238,"v":2},{"t":253,"t2":254,"v":2},{"t":285,"t2":286,"v":2},{"t":290,"t2":291,"v":0},
{"t":341,"t2":342,"v":2},{"t":343,"t2":344,"v":2},{"t":380,"t2":381,"v":2},{"t":383,"t2":384,"v":2},{"t":385,"t2":386,"v":2},{"t":392,"t2":393,"v":2},{"t":413,"t2":414,"v":2},{"t":422,"t2":423,"v":2},{"t":424,"t2":425,"v":2},{"t":437,"t2":438,"v":2},{"t":439,"t2":440,"v":2},{"t":455,"t2":456,"v":2},{"t":457,"t2":458,"v":2},{"t":463,"t2":464,"v":2},{"t":478,"t2":479,"v":2},{"t":484,"t2":485,"v":2},{"t":517,"t2":518,"v":2},{"t":532,"t2":533,"v":2},{"t":539,"t2":540,"v":0},{"t":560,"t2":561,"v":0},{"t":562,"t2":563,"v":2},
{"t":600,"t2":601,"v":2},{"t":614,"t2":615,"v":2},{"t":616,"t2":617,"v":2},{"t":652,"t2":653,"v":0},{"t":657,"t2":658,"v":2},{"t":688,"t2":689,"v":2},{"t":702,"t2":703,"v":2},{"t":766,"t2":767,"v":2},{"t":800,"t2":801,"v":0},{"t":862,"t2":863,"v":2},
{"t":930,"t2":931,"v":0},{"t":932,"t2":933,"v":0},{"t":939,"t2":940,"v":2},{"t":964,"t2":965,"v":0},{"t":979,"t2":980,"v":2},{"t":997,"t2":998,"v":2},{"t":1025,"t2":1026,"v":0},{"t":1060,"t2":1061,"v":2},{"t":1077,"t2":1078,"v":2},{"t":1082,"t2":1083,"v":0},{"t":1114,"t2":1115,"v":2},{"t":1119,"t2":1120,"v":2},{"t":1130,"t2":1131,"v":0},{"t":1142,"t2":1143,"v":0},{"t":1149,"t2":1150,"v":2}
]
},
"layer":[
{"data":{"values":[{}]},"mark":{"type":"rule","color":"#c0c0c0","strokeWidth":1},
 "encoding":{"x":{"datum":396,"type":"quantitative","scale":{"domain":[-0.5,1151.5]},"axis":null}}},
{"data":{"values":[{}]},"mark":{"type":"text","text":"N","font":"DejaVu Sans","fontStyle":"italic","fontSize":88,"color":"#dfe0fa","align":"center","baseline":"alphabetic"},
 "encoding":{"x":{"datum":121,"type":"quantitative","scale":{"domain":[-0.5,1151.5]},"axis":null},"y":{"datum":54.2,"type":"quantitative","scale":{"domain":[0,63]},"axis":null}}},
{"data":{"values":[{}]},"mark":{"type":"text","text":"a","font":"DejaVu Sans","fontStyle":"italic","fontSize":88,"color":"#dfe0fa","align":"center","baseline":"alphabetic"},
 "encoding":{"x":{"datum":349,"type":"quantitative","scale":{"domain":[-0.5,1151.5]},"axis":null},"y":{"datum":54.2,"type":"quantitative","scale":{"domain":[0,63]},"axis":null}}},
{"data":{"values":[{}]},"mark":{"type":"text","text":"n","font":"DejaVu Sans","fontStyle":"italic","fontSize":88,"color":"#dfe0fa","align":"center","baseline":"alphabetic"},
 "encoding":{"x":{"datum":583,"type":"quantitative","scale":{"domain":[-0.5,1151.5]},"axis":null},"y":{"datum":54.2,"type":"quantitative","scale":{"domain":[0,63]},"axis":null}}},
{"data":{"values":[{}]},"mark":{"type":"text","text":"e","font":"DejaVu Sans","fontStyle":"italic","fontSize":88,"color":"#dfe0fa","align":"center","baseline":"alphabetic"},
 "encoding":{"x":{"datum":816,"type":"quantitative","scale":{"domain":[-0.5,1151.5]},"axis":null},"y":{"datum":54.2,"type":"quantitative","scale":{"domain":[0,63]},"axis":null}}},
{"data":{"values":[{}]},"mark":{"type":"text","text":"x","font":"DejaVu Sans","fontStyle":"italic","fontSize":88,"color":"#dfe0fa","align":"center","baseline":"alphabetic"},
 "encoding":{"x":{"datum":1047,"type":"quantitative","scale":{"domain":[-0.5,1151.5]},"axis":null},"y":{"datum":54.2,"type":"quantitative","scale":{"domain":[0,63]},"axis":null}}},
{"data":{"name":"noise"},"mark":{"type":"line","interpolate":"step-after","color":"#ffcc00","strokeWidth":1},
 "encoding":{
  "x":{"field":"t","type":"quantitative","scale":{"domain":[-0.5,1151.5]},"axis":null},
  "y":{"field":"y","type":"quantitative","scale":{"domain":[0,63]},
   "axis":{"orient":"right","values":[0,5,10,15,20,25,30,35,40,45,50,55,60],"grid":true,"gridColor":"#c8c8c8","gridDash":[4,3],"gridWidth":1,
    "domain":false,"ticks":false,"tickSize":0,"labelAlign":"right","labelBaseline":"middle","labelPadding":43,"labelFontSize":10,"labelFlush":true,
    "title":"#","titleAngle":0,"titleX":43,"titleY":-6,"titleAlign":"right","titleBaseline":"middle","titleFontSize":10,"titleFontWeight":"normal"}}}},
{"data":{"name":"noise"},"mark":{"type":"line","interpolate":"step-after","color":"#000000","strokeWidth":1},
 "encoding":{
  "x":{"field":"t","type":"quantitative","scale":{"domain":[-0.5,1151.5]},
   "axis":{"orient":"top","values":[36,96,156,216,276,336,396,456,516,576,636,696,756,816,876,936,996,1056,1116],
    "labelExpr":"datum.value==396?'11':(datum.value<396?''+(54+(datum.value-36)/60):(((datum.value-396)/60)<10?'0':'')+((datum.value-396)/60))",
    "grid":true,"gridColor":"#c8c8c8","gridDash":[4,3],"gridWidth":1,"domain":false,"ticks":false,"tickSize":0,"labelPadding":5,"labelBaseline":"middle",
    "labelFontSize":{"condition":{"test":"datum.value==396","value":10},"value":9},
    "labelFontWeight":{"condition":{"test":"datum.value==396","value":"bold"},"value":"normal"},
    "title":null}},
  "y":{"field":"k","type":"quantitative","scale":{"domain":[0,63]},"axis":null}}},
{"data":{"name":"spikes"},"mark":{"type":"rule","color":"#ffcc00","strokeWidth":1},
 "encoding":{"x":{"field":"t","type":"quantitative","scale":{"domain":[-0.5,1151.5]},"axis":null},"y":{"field":"a","type":"quantitative","scale":{"domain":[0,63]},"axis":null},"y2":{"datum":0}}},
{"data":{"name":"spikes"},"mark":{"type":"rule","color":"#ffcc00","strokeWidth":3},
 "encoding":{"x":{"field":"t","type":"quantitative","scale":{"domain":[-0.5,1151.5]},"axis":null},"y":{"field":"b","type":"quantitative","scale":{"domain":[0,63]},"axis":null},"y2":{"datum":0}}},
{"data":{"name":"spikes"},"mark":{"type":"rule","color":"#ffffff","strokeWidth":1,"strokeDash":[4,3]},
 "encoding":{"x":{"field":"t","type":"quantitative","scale":{"domain":[-0.5,1151.5]},"axis":null},"y":{"field":"kl","type":"quantitative","scale":{"domain":[0,63]},"axis":null},"y2":{"datum":0}}},
{"data":{"name":"spikes"},"mark":{"type":"rule","color":"#000000","strokeWidth":1},
 "encoding":{"x":{"field":"t","type":"quantitative","scale":{"domain":[-0.5,1151.5]},"axis":null},"y":{"field":"kl","type":"quantitative","scale":{"domain":[0,63]},"axis":null},"y2":{"field":"kh"}}},
{"data":{"name":"red"},"mark":{"type":"rect","filled":false,"color":"#ff0000","strokeWidth":1},
 "encoding":{
  "x":{"field":"t","type":"quantitative","scale":{"domain":[-0.5,1151.5]},
   "axis":{"orient":"bottom","values":[36,96,156,216,276,336,396,456,516,576,636,696,756,816,876,936,996,1056,1116],
    "labelExpr":"datum.value==396?'11':(datum.value<396?''+(54+(datum.value-36)/60):(((datum.value-396)/60)<10?'0':'')+((datum.value-396)/60))",
    "grid":false,"domain":false,"ticks":false,"tickSize":0,"labelPadding":5,"labelBaseline":"middle",
    "labelFontSize":{"condition":{"test":"datum.value==396","value":10},"value":9},
    "labelFontWeight":{"condition":{"test":"datum.value==396","value":"bold"},"value":"normal"},
    "title":null}},
  "x2":{"field":"t2"},
  "y":{"field":"v","type":"quantitative","scale":{"domain":[0,63]},"axis":null},
  "y2":{"datum":1}}},
{"data":{"name":"green"},"mark":{"type":"line","interpolate":"step-after","color":"#77ff00","strokeWidth":1.5},
 "encoding":{"x":{"field":"t","type":"quantitative","scale":{"domain":[-0.5,1151.5]},"axis":null},"y":{"field":"v","type":"quantitative","scale":{"domain":[0,63]},"axis":null}}},
{"data":{"values":[]},"mark":{"type":"rect","opacity":1},
 "encoding":{
  "x":{"field":"t","type":"quantitative","scale":{"domain":[-0.5,1151.5]},"axis":null},
  "y":{"field":"v","type":"quantitative","scale":{"domain":[0,63]},"axis":null},
  "color":{"field":"s","type":"nominal",
   "scale":{"domain":["+Buy","+Sell","-Buy","-Sell","*Buy","*Sell","eHid"],"range":["#000000","#ff0000","#ffcc00","#77ff00","#00ff66","#00c0f0","#3030d0"]},
   "legend":{"orient":"none","legendX":1170,"legendY":7,"title":null,"padding":0,"rowPadding":-5,
    "symbolType":"M-1.36,-1H1.36V1H-1.36Z","symbolSize":121,"symbolStrokeWidth":0,"symbolOffset":0,"symbolOpacity":1,
    "labelAlign":"right","labelOffset":-15,"labelBaseline":"middle","labelFontSize":9,"labelFont":"DejaVu Sans Mono","labelColor":"#000000",
    "encode":{"symbols":{"update":{"fill":{"scale":"color","field":"value"},"fillOpacity":{"value":1},"opacity":{"value":1}}}}}}}}
],
"resolve":{"axis":{"x":"independent","y":"independent"}}
}
